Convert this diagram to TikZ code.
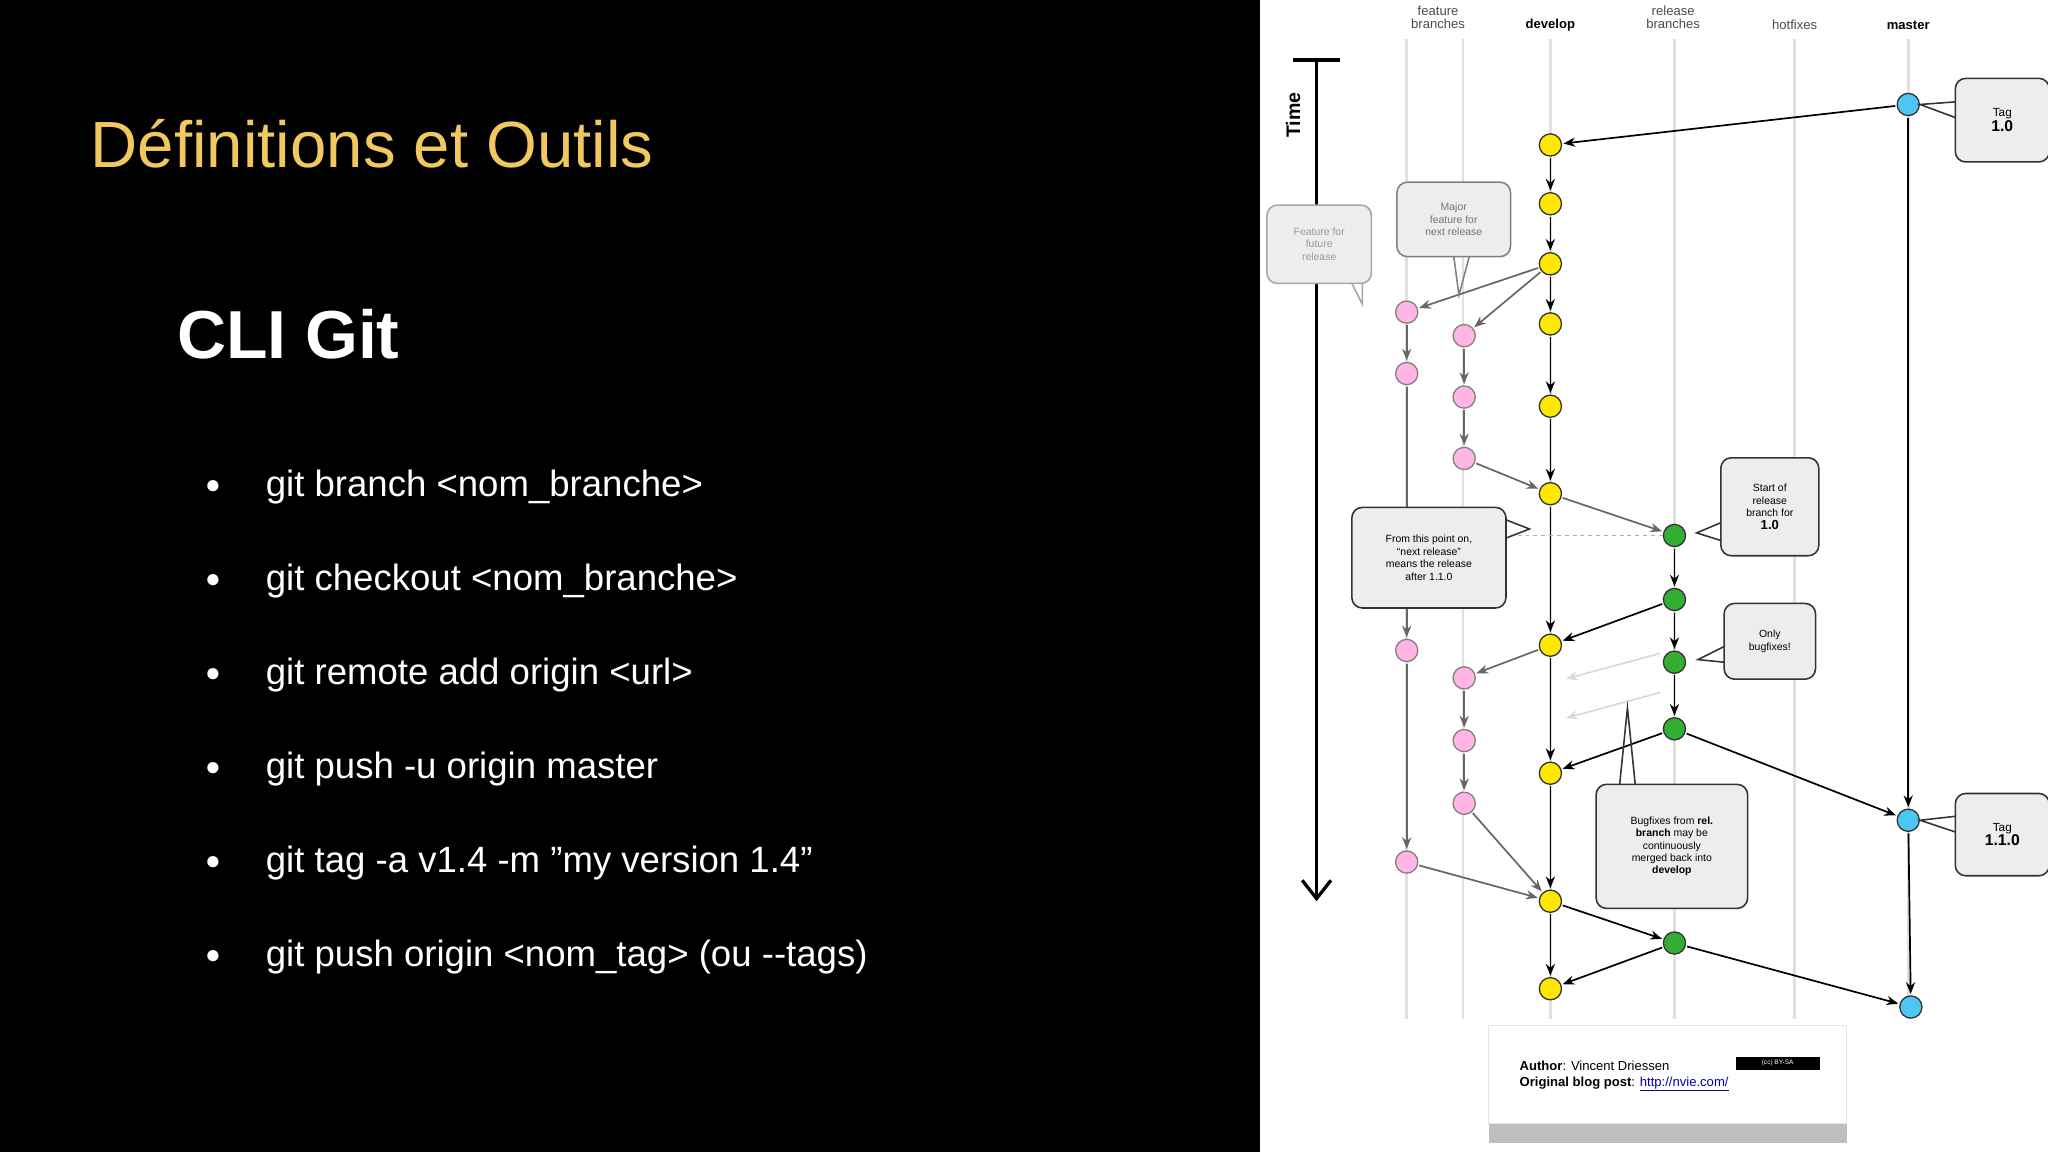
\documentclass[tikz,border=0pt]{standalone}
\usepackage{fontspec}
\setmainfont{Liberation Sans}
\usetikzlibrary{arrows.meta,shapes.callouts}
\begin{document}
\begin{tikzpicture}[x=1pt,y=-1pt,
 cmt/.style={circle,draw=black!80,line width=1pt,minimum size=17pt,inner sep=0},
 yel/.style={cmt,fill=yellow!90!orange},
 pnk/.style={cmt,fill=pink!70!magenta!60,draw=black!50},
 grn/.style={cmt,fill=green!60!black!80},
 cya/.style={cmt,fill=cyan!70},
 ar/.style={-{Stealth[length=9pt,width=7pt]},line width=1.3pt,shorten <=1pt,shorten >=1pt},
 far/.style={ar,black!15},
 bub/.style={draw=black!80,fill=black!7,rounded corners=8pt,line width=1.2pt,align=center,font=\fontsize{8}{9.5}\selectfont,inner sep=4pt},
 hd/.style={font=\fontsize{10}{10}\selectfont,black!70,align=center},
 bl/.style={anchor=west,white,font=\fontsize{28}{30}\selectfont},
 dot/.style={white,font=\fontsize{20}{20}\selectfont}]
\useasboundingbox (0,0) rectangle (1568,882);
\fill[black] (0,0) rectangle (965,882);
\fill[white] (965,0) rectangle (1568,882);
\node[anchor=west,text={rgb,255:red,240;green,200;blue,95},font=\fontsize{50}{56}\selectfont] (title) at (66,110) {Définitions et Outils};
\node[anchor=west,white,font=\bfseries\fontsize{52}{58}\selectfont] (cli) at (132,256) {CLI Git};
\foreach \y/\t [count=\i] in {373/{git branch <nom\_branche>},445/{git checkout <nom\_branche>},517/{git remote add origin <url>},589/{git push -u origin master},661/{git tag -a v1.4 -m "my version 1.4"},733/{git push origin <nom\_tag> (ou -{}-tags)}}{
 \node[dot] (d\i) at (163,\y) {●};
 \node[bl] (b\i) at (200,\y) {\t};}
% lanes
\foreach \x in {1077,1120,1187,1282,1374,1461}{\draw[black!12,line width=2pt] (\x,30) -- (\x,780);}
\node[hd] (h1) at (1101,13) {feature\\branches};
\node[hd,font=\bfseries\fontsize{10}{10}\selectfont,black] (h2) at (1187,19) {develop};
\node[hd] (h3) at (1281,13) {release\\branches};
\node[hd] (h4) at (1374,19) {hotfixes};
\node[hd,font=\bfseries\fontsize{10}{10}\selectfont,black] (h5) at (1461,19) {master};
% time
\coordinate (t0) at (1008,46); \coordinate (t1) at (1008,690);
\draw[line width=2.5pt,-{Straight Barb[length=14pt,width=22pt]}] (t0) -- (t1);
\draw[line width=3pt] (990,46) -- (1026,46);
\node[rotate=90,font=\bfseries\fontsize{15}{15}\selectfont] (time) at (990,88) {Time};
% nodes
\node[cya] (m1) at (1461,80) {}; \node[cya] (m2) at (1461,628) {}; \node[cya] (m3) at (1463,771) {};
\foreach \y [count=\i] in {111,156,202,248,311,378,494,592,690,757}{\node[yel] (v\i) at (1187,\y) {};}
\node[pnk] (a1) at (1077,239) {}; \node[pnk] (a2) at (1077,286) {}; \node[pnk] (a3) at (1077,498) {}; \node[pnk] (a4) at (1077,660) {};
\foreach \y [count=\i] in {257,304,351,519,567,615}{\node[pnk] (f\i) at (1121,\y) {};}
\foreach \y [count=\i] in {410,459,507,558,722}{\node[grn] (r\i) at (1282,\y) {};}
% arrows
\draw[ar] (m1) -- (v1);
\foreach \i [evaluate=\i as \j using int(\i+1)] in {1,...,9}{\draw[ar] (v\i) -- (v\j);}
\draw[ar] (m1) -- (m2); \draw[ar] (m2) -- (m3);
\draw[ar,black!60] (v3) -- (a1); \draw[ar,black!60] (v3) -- (f1);
\draw[ar,black!60] (a1) -- (a2); \draw[ar,black!60] (a2) -- (a3); \draw[ar,black!60] (a3) -- (a4);
\draw[ar,black!60] (f1) -- (f2); \draw[ar,black!60] (f2) -- (f3); \draw[ar,black!60] (f3) -- (v6);
\draw[ar,black!60] (f4) -- (f5); \draw[ar,black!60] (f5) -- (f6);
\draw[ar,black!60] (f6) -- (v9); \draw[ar,black!60] (a4) -- (v9);
\draw[ar,black!60] (v7) -- (f4);
\draw[ar,black!60] (v6) -- (r1);
\foreach \i [evaluate=\i as \j using int(\i+1)] in {1,2,3}{\draw[ar] (r\i) -- (r\j);}
\draw[ar] (r2) -- (v7); \draw[ar] (r4) -- (v8); \draw[ar] (r4) -- (m2);
\draw[ar] (v9) -- (r5); \draw[ar] (r5) -- (v10); \draw[ar] (r5) -- (m3);
\coordinate (g1) at (1198,520); \coordinate (g2) at (1198,550);
\draw[far] (1272,500) -- (g1); \draw[far] (1272,530) -- (g2);
\draw[dashed,black!30] (1150,410) -- (r1);
% bubbles
\node[bub,minimum width=72pt,minimum height=64pt,font=\fontsize{9}{11}\selectfont] (tag1) at (1533,92) {Tag\\\textbf{\large 1.0}};
\draw[black!80,line width=1.2pt] (1497,78) -- (m1.east) -- (1497,90);
\node[bub,minimum width=72pt,minimum height=63pt,font=\fontsize{9}{11}\selectfont] (tag2) at (1533,639) {Tag\\\textbf{\large 1.1.0}};
\draw[black!80,line width=1.2pt] (1497,625) -- (m2.east) -- (1497,637);
\node[bub,draw=black!35,text=black!40,minimum width=80pt,minimum height=60pt] (ff) at (1010,187) {Feature for\\future\\release};
\draw[black!35,line width=1.2pt] (1035,217) -- (1043,233) -- (1043,217);
\node[bub,draw=black!50,text=black!55,minimum width=87pt,minimum height=57pt] (mf) at (1113,168) {Major\\feature for\\next release};
\draw[black!50,line width=1.2pt] (1113,196) -- (1117,226) -- (1125,196);
\node[bub,minimum width=118pt,minimum height=77pt] (fp) at (1094,427) {From this point on,\\``next release''\\means the release\\after 1.1.0};
\draw[black!80,line width=1.2pt] (1153,398) -- (1171,405) -- (1153,412);
\node[bub,minimum width=75pt,minimum height=75pt] (sr) at (1355,388) {Start of\\release\\branch for\\\textbf{\normalsize 1.0}};
\draw[black!80,line width=1.2pt] (1318,400) -- (1299,408) -- (1318,414);
\node[bub,minimum width=70pt,minimum height=58pt] (ob) at (1355,491) {Only\\bugfixes!};
\draw[black!80,line width=1.2pt] (1320,495) -- (1300,505) -- (1320,507);
\node[bub,minimum width=116pt,minimum height=95pt] (bf) at (1280,648) {Bugfixes from \textbf{rel.}\\\textbf{branch} may be\\continuously\\merged back into\\\textbf{develop}};
\draw[black!80,line width=1.2pt] (1240,601) -- (1246,542) -- (1252,601);
% author box
\fill[black!25] (1140,850) rectangle (1414,875);
\node[draw=black!10,fill=white,minimum width=274pt,minimum height=75pt,anchor=north west,inner sep=0] (auth) at (1139,785) {};
\node[anchor=west,font=\fontsize{10}{12}\selectfont,align=left] (at) at (1160,824) {\textbf{Author}: Vincent Driessen\\\textbf{Original blog post}: \textcolor{blue!70!black}{\underline{http://nvie.com/}}};
\node[draw,fill=black,text=white,font=\fontsize{5}{5}\selectfont,minimum width=64pt,minimum height=9pt,inner sep=0] (cc) at (1361,814) {(cc) BY-SA};
\end{tikzpicture}
\end{document}
